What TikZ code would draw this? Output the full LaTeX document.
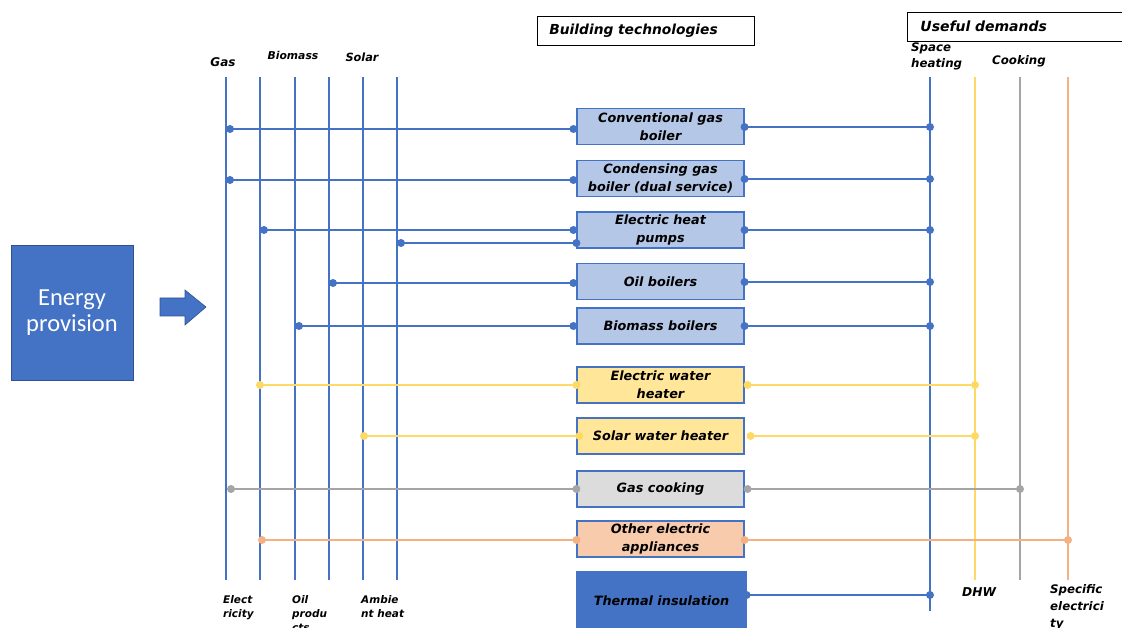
\documentclass[tikz,border=0pt]{standalone}
\usepackage{fontspec}
\setmainfont{DejaVu Sans}
\newfontfamily\calfont{Carlito}
\begin{document}
\begin{tikzpicture}[x=1pt,y=-1pt,
  vline/.style={line width=1.8pt},
  conn/.style={line width=1.8pt},
  dot/.style={circle,fill,inner sep=0pt,minimum size=8pt},
  techbox/.style={draw=lineblue,line width=1.2pt,minimum width=167pt,minimum height=36pt,align=center,inner sep=1pt,
     font=\bfseries\itshape\fontsize{12.8}{18}\selectfont},
  lbl/.style={font=\bfseries\itshape\fontsize{11.8}{16}\selectfont,inner sep=0pt,align=left},
  blbl/.style={font=\bfseries\itshape\fontsize{10.5}{14}\selectfont,inner sep=0pt,align=left,anchor=north west},
  hdr/.style={draw=black,line width=0.8pt,font=\bfseries\itshape\fontsize{14}{16}\selectfont,anchor=west,inner sep=0pt}
]
\definecolor{lineblue}{HTML}{4472C4}
\definecolor{fillblue}{HTML}{B4C7E7}
\definecolor{lineyellow}{HTML}{FFD966}
\definecolor{fillyellow}{HTML}{FFE699}
\definecolor{linegrey}{HTML}{A5A5A5}
\definecolor{fillgrey}{HTML}{DCDCDC}
\definecolor{lineorange}{HTML}{F4B183}
\definecolor{fillorange}{HTML}{F8CBAD}
\definecolor{darkblue}{HTML}{2F528F}
\useasboundingbox (0,0) rectangle (1122,628);

% Energy provision
\node[fill=lineblue,draw=darkblue,line width=0.8pt,minimum width=122pt,minimum height=135pt,
  text=white,align=center,font=\calfont\fontsize{24.5}{26}\selectfont] (ep) at (72,312.5) {Energy\\provision};
\fill[lineblue,draw=darkblue,line width=0.6pt] (160,298) -- (185,298) -- (185,290) -- (206,307) -- (185,325) -- (185,316) -- (160,316) -- cycle;

% header boxes
\node[hdr,minimum width=217pt,minimum height=29pt,text width=193pt,align=left,inner xsep=12pt,font=\bfseries\itshape\fontsize{13.8}{16}\selectfont] (bt) at (537,30.5) {Building technologies};
\node[hdr,minimum width=220pt,minimum height=29pt,text width=205pt,align=left,inner xsep=13pt] (ud) at (907,26.5) {Useful demands};

% left vertical lines
\foreach \n/\x in {gas/226,ele/260,bio/295,oil/329,sol/363,amb/397}{
  \coordinate (\n T) at (\x,77);
  \coordinate (\n B) at (\x,580);
  \draw[lineblue,vline] (\n T) -- (\n B);
}
% right vertical lines
\coordinate (shT) at (930,77); \coordinate (shB) at (930,611);
\coordinate (dhwT) at (975,77); \coordinate (dhwB) at (975,580);
\coordinate (ckT) at (1020,77); \coordinate (ckB) at (1020,580);
\coordinate (spT) at (1068,77); \coordinate (spB) at (1068,580);
\draw[lineblue,vline] (shT) -- (shB);
\draw[lineyellow,vline] (dhwT) -- (dhwB);
\draw[linegrey,vline] (ckT) -- (ckB);
\draw[lineorange,vline] (spT) -- (spB);

% labels
\node[lbl,font=\bfseries\itshape\fontsize{12}{14}\selectfont] (lgas) at (223,62) {Gas};
\node[lbl,font=\bfseries\itshape\fontsize{10.8}{12}\selectfont] (lbio) at (293,55) {Biomass};
\node[lbl,font=\bfseries\itshape\fontsize{11.3}{14}\selectfont] (lsol) at (362,57) {Solar};
\node[blbl] (lele) at (223,595) {Elect\\ricity};
\node[blbl] (loil) at (292,595) {Oil\\produ\\cts};
\node[blbl] (lamb) at (361,595) {Ambie\\nt heat};
\node[lbl,anchor=north west] (lsh) at (911,43) {Space\\heating};
\node[lbl] (lck) at (1019,61) {Cooking};
\node[lbl,anchor=north west,font=\bfseries\itshape\fontsize{12.2}{16}\selectfont] (ldhw) at (962,587) {DHW};
\node[lbl,anchor=north west,font=\bfseries\itshape\fontsize{11.8}{17}\selectfont] (lsp) at (1050,584) {Specific\\electrici\\ty};

% technology boxes
\node[techbox,fill=fillblue] (b1) at (660.5,126.5) {Conventional gas\\boiler};
\node[techbox,fill=fillblue] (b2) at (660.5,178.5) {Condensing gas\\boiler (dual service)};
\node[techbox,fill=fillblue] (b3) at (660.5,230) {Electric heat\\pumps};
\node[techbox,fill=fillblue] (b4) at (660.5,281.5) {Oil boilers};
\node[techbox,fill=fillblue] (b5) at (660.5,326) {Biomass boilers};
\node[techbox,fill=fillyellow] (b6) at (660.5,385) {Electric water\\heater};
\node[techbox,fill=fillyellow] (b7) at (660.5,436) {Solar water heater};
\node[techbox,fill=fillgrey] (b8) at (660.5,489) {Gas cooking};
\node[techbox,fill=fillorange] (b9) at (660.5,539) {Other electric\\appliances};
\node[techbox,fill=lineblue,draw=lineblue,minimum width=169pt,minimum height=58pt] (b10) at (661.5,601) {Thermal insulation};

% connectors: blue group
\foreach \b/\src/\dy/\ry in {b1/gas/-2.5/-0.5,b2/gas/-1.5/-0.5,b3/ele/0/0,b4/oil/-1.5/-0.5,b5/bio/0/0}{
  \draw[lineblue,conn] ([yshift=\dy pt,xshift=4pt]\b.west -| \src T) node[dot]{} -- ([yshift=\dy pt,xshift=-3pt]\b.west) node[dot]{};
  \draw[lineblue,conn] ([yshift=\ry pt]\b.east) node[dot]{} -- ([yshift=\ry pt]\b.east -| shT) node[dot]{};
}
\draw[lineblue,conn] ([yshift=-13pt,xshift=4pt]b3.west -| ambT) node[dot]{} -- ([yshift=-13pt]b3.west) node[dot]{};
\draw[lineblue,conn] ([yshift=6pt]b10.east) node[dot]{} -- ([yshift=6pt]b10.east -| shT) node[dot]{};
% yellow
\draw[lineyellow,conn] (b6.west -| eleT) node[dot]{} -- (b6.west) node[dot]{};
\draw[lineyellow,conn] ([xshift=3pt]b6.east) node[dot]{} -- (b6.east -| dhwT) node[dot]{};
\draw[lineyellow,conn] ([xshift=1pt]b7.west -| solT) node[dot]{} -- ([xshift=3pt]b7.west) node[dot]{};
\draw[lineyellow,conn] ([xshift=6pt]b7.east) node[dot]{} -- (b7.east -| dhwT) node[dot]{};
% grey
\draw[linegrey,conn] ([xshift=5pt]b8.west -| gasT) node[dot]{} -- (b8.west) node[dot]{};
\draw[linegrey,conn] ([xshift=3pt]b8.east) node[dot]{} -- (b8.east -| ckT) node[dot]{};
% orange
\draw[lineorange,conn] ([yshift=-1pt,xshift=2pt]b9.west -| eleT) node[dot]{} -- ([yshift=-1pt]b9.west) node[dot]{};
\draw[lineorange,conn] ([yshift=-1pt]b9.east) node[dot]{} -- ([yshift=-1pt]b9.east -| spT) node[dot]{};
\end{tikzpicture}
\end{document}
